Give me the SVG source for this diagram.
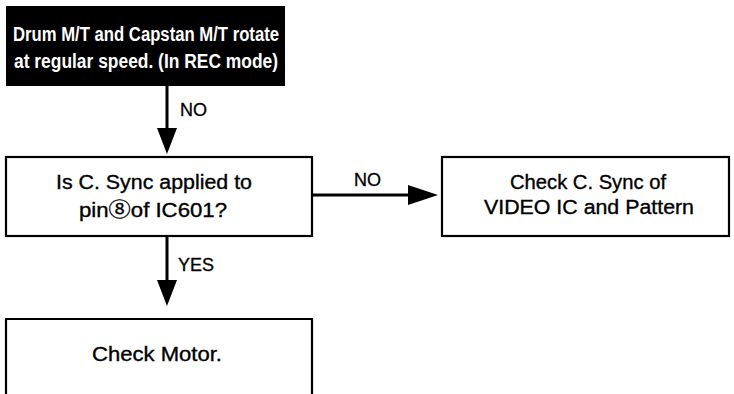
<svg xmlns="http://www.w3.org/2000/svg" width="734" height="394" viewBox="0 0 734 394">
<style>
.box{fill:#fff;stroke:#000;stroke-width:2.2}
.t{font-family:"Liberation Sans",Arial,"Noto Sans CJK JP",sans-serif;font-size:20px;fill:#000;stroke:#000;stroke-width:0.35;text-anchor:middle}
.tw{font-family:"Liberation Sans",Arial,sans-serif;font-size:20px;font-weight:bold;fill:#fff;text-anchor:middle}
.lbl{font-family:"Liberation Sans",Arial,sans-serif;font-size:18px;fill:#000;stroke:#000;stroke-width:0.3}
.c{stroke:#000;stroke-width:3;fill:none}
</style>
<rect width="734" height="394" fill="#fff"/>
<g id="start">
<rect x="6" y="6" width="279" height="80" fill="#000"/>
<text class="tw" x="146" y="41" textLength="266" lengthAdjust="spacingAndGlyphs">Drum M/T and Capstan M/T rotate</text>
<text class="tw" x="146" y="68" textLength="264" lengthAdjust="spacingAndGlyphs">at regular speed. (In REC mode)</text>
</g>
<g id="decision">
<rect class="box" x="6" y="157" width="306" height="79"/>
<text class="t" x="154" y="189" textLength="196" lengthAdjust="spacingAndGlyphs">Is C. Sync applied to</text>
<text class="t" x="153" y="217" textLength="148" lengthAdjust="spacingAndGlyphs">pin⑧of IC601?</text>
</g>
<g id="checkSync">
<rect class="box" x="442" y="157" width="287" height="79"/>
<text class="t" x="588" y="189" textLength="156" lengthAdjust="spacingAndGlyphs">Check C. Sync of</text>
<text class="t" x="589" y="214" textLength="210" lengthAdjust="spacingAndGlyphs">VIDEO IC and Pattern</text>
</g>
<g id="checkMotor">
<path class="box" d="M6,396 V319 H312 V396"/>
<text class="t" x="157" y="361" textLength="130" lengthAdjust="spacingAndGlyphs">Check Motor.</text>
</g>
<g id="connectors">
<path class="c" d="M167,86 V132"/>
<path d="M157,128 L177,128 L167,154 Z" fill="#000"/>
<text class="lbl" x="180" y="116">NO</text>
<path class="c" d="M312,195 H412"/>
<path d="M408,185 L408,205 L438,195 Z" fill="#000"/>
<text class="lbl" x="354" y="186">NO</text>
<path class="c" d="M167,236 V284"/>
<path d="M157,280 L177,280 L167,306 Z" fill="#000"/>
<text class="lbl" x="178" y="271">YES</text>
</g>
</svg>
